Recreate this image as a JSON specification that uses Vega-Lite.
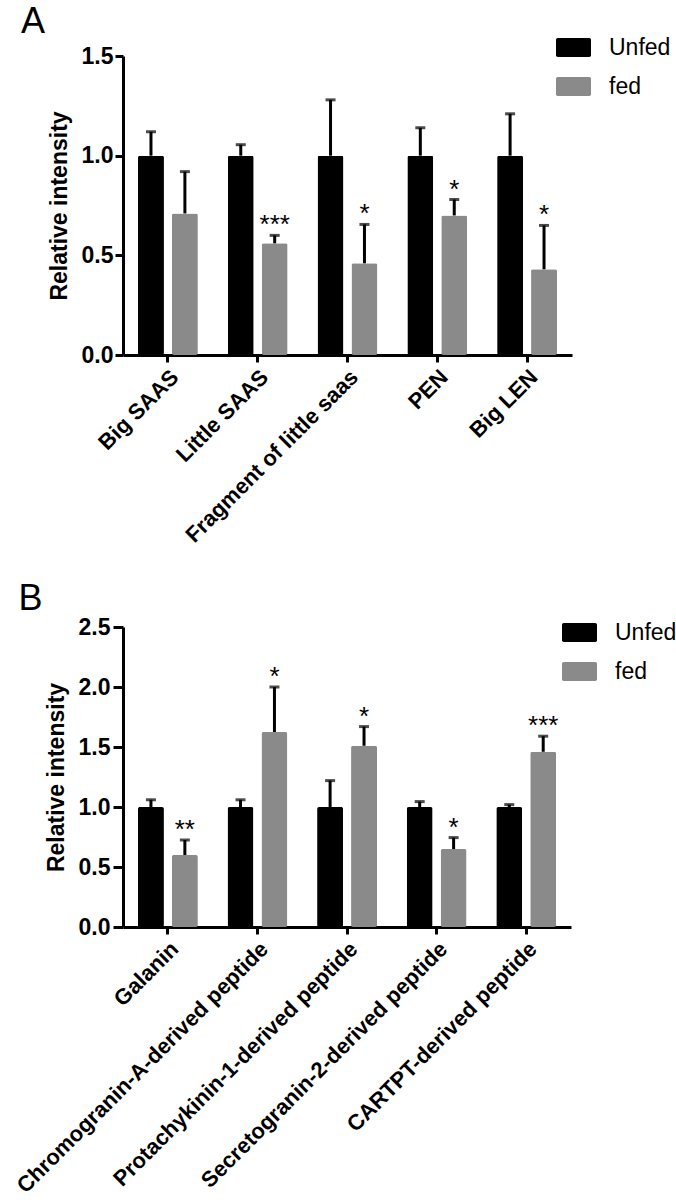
{
  "$schema": "https://vega.github.io/schema/vega-lite/v6.json",
  "background": "white",
  "padding": {"left": 12, "top": 4, "right": 0, "bottom": 0},
  "config": {
    "font": "Liberation Sans",
    "view": {"stroke": null},
    "axis": {
      "domainColor": "black", "domainWidth": 3, "tickColor": "black", "tickWidth": 3,
      "labelColor": "black", "titleColor": "black", "labelFont": "Liberation Sans", "titleFont": "Liberation Sans",
      "labelFontSize": 23, "labelFontWeight": "bold", "titleFontSize": 23, "titleFontWeight": "bold", "grid": false, "labelLimit": 0
    },
    "legend": {"labelFont": "Liberation Sans", "labelFontSize": 23, "labelColor": "black"},
    "title": {"font": "Liberation Sans", "fontSize": 36, "fontWeight": "normal", "color": "black", "anchor": "start", "frame": "bounds"}
  },
  "datasets": {
    "panelA": [
      {"peptide": "Big SAAS", "group": "Unfed", "value": 1.0, "err": 1.12, "sig": ""},
      {"peptide": "Big SAAS", "group": "fed", "value": 0.71, "err": 0.92, "sig": ""},
      {"peptide": "Little SAAS", "group": "Unfed", "value": 1.0, "err": 1.055, "sig": ""},
      {"peptide": "Little SAAS", "group": "fed", "value": 0.56, "err": 0.60, "sig": "***"},
      {"peptide": "Fragment of little saas", "group": "Unfed", "value": 1.0, "err": 1.28, "sig": ""},
      {"peptide": "Fragment of little saas", "group": "fed", "value": 0.46, "err": 0.655, "sig": "*"},
      {"peptide": "PEN", "group": "Unfed", "value": 1.0, "err": 1.14, "sig": ""},
      {"peptide": "PEN", "group": "fed", "value": 0.70, "err": 0.78, "sig": "*"},
      {"peptide": "Big LEN", "group": "Unfed", "value": 1.0, "err": 1.21, "sig": ""},
      {"peptide": "Big LEN", "group": "fed", "value": 0.43, "err": 0.65, "sig": "*"}
    ],
    "panelB": [
      {"peptide": "Galanin", "group": "Unfed", "value": 1.0, "err": 1.06, "sig": ""},
      {"peptide": "Galanin", "group": "fed", "value": 0.60, "err": 0.725, "sig": "**"},
      {"peptide": "Chromogranin-A-derived peptide", "group": "Unfed", "value": 1.0, "err": 1.06, "sig": ""},
      {"peptide": "Chromogranin-A-derived peptide", "group": "fed", "value": 1.625, "err": 2.0, "sig": "*"},
      {"peptide": "Protachykinin-1-derived peptide", "group": "Unfed", "value": 1.0, "err": 1.22, "sig": ""},
      {"peptide": "Protachykinin-1-derived peptide", "group": "fed", "value": 1.51, "err": 1.67, "sig": "*"},
      {"peptide": "Secretogranin-2-derived peptide", "group": "Unfed", "value": 1.0, "err": 1.045, "sig": ""},
      {"peptide": "Secretogranin-2-derived peptide", "group": "fed", "value": 0.65, "err": 0.745, "sig": "*"},
      {"peptide": "CARTPT-derived peptide", "group": "Unfed", "value": 1.0, "err": 1.02, "sig": ""},
      {"peptide": "CARTPT-derived peptide", "group": "fed", "value": 1.46, "err": 1.59, "sig": "***"}
    ]
  },
  "vconcat": [
    {
      "title": {"text": "A", "dx": -27, "offset": -11},
      "width": 449,
      "height": 299,
      "data": {"name": "panelA"},
      "encoding": {
        "x": {"field": "peptide", "type": "nominal", "sort": null, "title": null,
              "scale": {"paddingInner": 0.333, "paddingOuter": 0.167},
              "axis": {"labelAngle": -45, "tickSize": 7, "labelPadding": 4, "labelFontSize": 22}},
        "xOffset": {"field": "group", "type": "nominal", "sort": ["Unfed", "fed"],
                    "scale": {"paddingInner": 0.235, "paddingOuter": 0}}
      },
      "layer": [
        {
          "mark": {"type": "bar", "cornerRadius": 2},
          "encoding": {
            "y": {"field": "value", "type": "quantitative", "title": "Relative intensity",
                  "scale": {"domain": [0, 1.5], "nice": false},
                  "axis": {"values": [0, 0.5, 1, 1.5], "format": ".1f", "tickSize": 8, "labelPadding": 2, "titlePadding": 10}},
            "color": {"field": "group", "type": "nominal",
                      "scale": {"domain": ["Unfed", "fed"], "range": ["#000000", "#8a8a8a"]},
                      "legend": {"title": null, "orient": "none", "legendX": 433, "legendY": -26,
                                 "symbolType": "M-0.9,-0.54H0.9Q1,-0.54 1,-0.44V0.44Q1,0.54 0.9,0.54H-0.9Q-1,0.54 -1,0.44V-0.44Q-1,-0.54 -0.9,-0.54Z",
                                 "symbolSize": 1225, "symbolStrokeWidth": 0, "labelOffset": 18, "rowPadding": 9}}
          }
        },
        {
          "mark": {"type": "rule", "color": "black", "strokeWidth": 3},
          "encoding": {"y": {"field": "value", "type": "quantitative"}, "y2": {"field": "err"}}
        },
        {
          "mark": {"type": "tick", "color": "black", "thickness": 3, "size": 10},
          "encoding": {"y": {"field": "err", "type": "quantitative"}}
        },
        {
          "mark": {"type": "text", "color": "black", "fontSize": 26, "baseline": "alphabetic", "dy": -2},
          "encoding": {"y": {"field": "err", "type": "quantitative"}, "text": {"field": "sig"}}
        }
      ]
    },
    {
      "title": {"text": "B", "dx": 6, "offset": -3},
      "width": 448,
      "height": 300,
      "data": {"name": "panelB"},
      "encoding": {
        "x": {"field": "peptide", "type": "nominal", "sort": null, "title": null,
              "scale": {"paddingInner": 0.333, "paddingOuter": 0.167},
              "axis": {"labelAngle": -45, "tickSize": 7, "labelPadding": 4, "labelFontSize": 22}},
        "xOffset": {"field": "group", "type": "nominal", "sort": ["Unfed", "fed"],
                    "scale": {"paddingInner": 0.235, "paddingOuter": 0}}
      },
      "layer": [
        {
          "mark": {"type": "bar", "cornerRadius": 2},
          "encoding": {
            "y": {"field": "value", "type": "quantitative", "title": "Relative intensity",
                  "scale": {"domain": [0, 2.5], "nice": false},
                  "axis": {"values": [0, 0.5, 1, 1.5, 2, 2.5], "format": ".1f", "tickSize": 10, "labelPadding": 3, "titlePadding": 10}},
            "color": {"field": "group", "type": "nominal",
                      "scale": {"domain": ["Unfed", "fed"], "range": ["#000000", "#8a8a8a"]},
                      "legend": {"title": null, "orient": "none", "legendX": 439, "legendY": -12,
                                 "symbolType": "M-0.9,-0.54H0.9Q1,-0.54 1,-0.44V0.44Q1,0.54 0.9,0.54H-0.9Q-1,0.54 -1,0.44V-0.44Q-1,-0.54 -0.9,-0.54Z",
                                 "symbolSize": 1225, "symbolStrokeWidth": 0, "labelOffset": 18, "rowPadding": 9}}
          }
        },
        {
          "mark": {"type": "rule", "color": "black", "strokeWidth": 3},
          "encoding": {"y": {"field": "value", "type": "quantitative"}, "y2": {"field": "err"}}
        },
        {
          "mark": {"type": "tick", "color": "black", "thickness": 3, "size": 10},
          "encoding": {"y": {"field": "err", "type": "quantitative"}}
        },
        {
          "mark": {"type": "text", "color": "black", "fontSize": 26, "baseline": "alphabetic", "dy": -2},
          "encoding": {"y": {"field": "err", "type": "quantitative"}, "text": {"field": "sig"}}
        }
      ]
    }
  ],
  "spacing": 35,
  "resolve": {"scale": {"color": "independent"}}
}
